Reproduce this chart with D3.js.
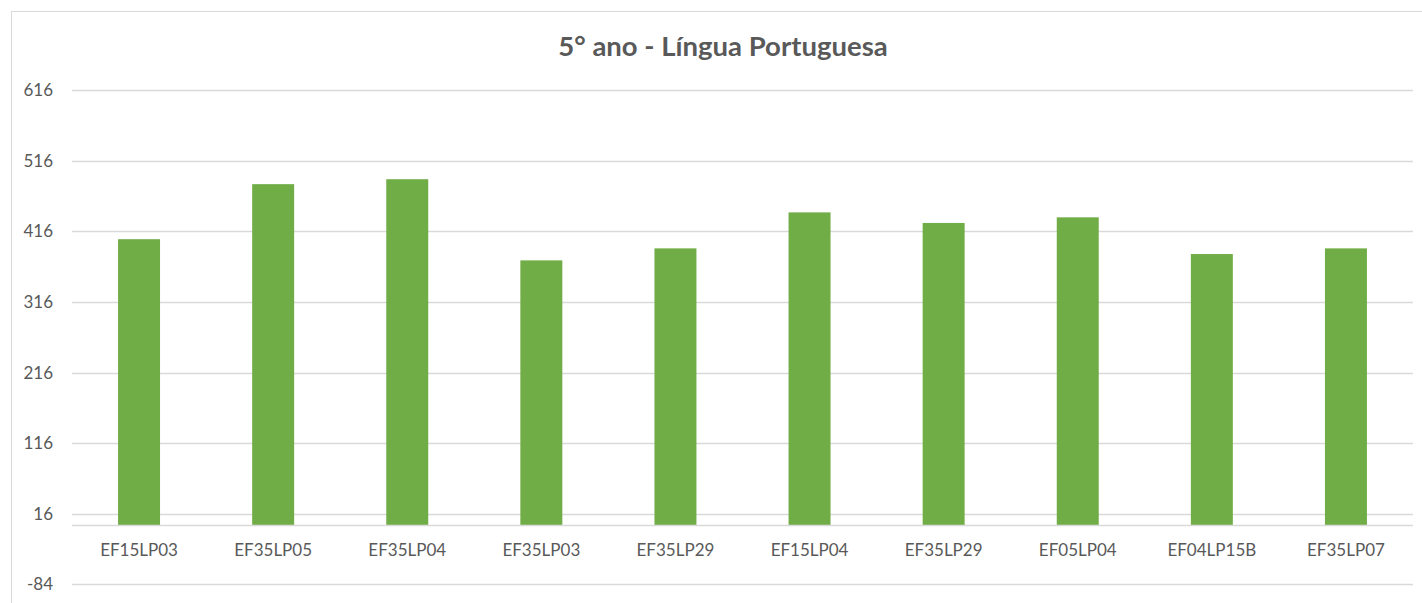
<!DOCTYPE html>
<html><head><meta charset="utf-8">
<script src="https://cdn.jsdelivr.net/npm/d3@7"></script>
<style>html,body{margin:0;padding:0;background:#fff;} svg{display:block;}</style>
</head><body>
<script>
const categories = ["EF15LP03","EF35LP05","EF35LP04","EF35LP03","EF35LP29","EF15LP04","EF35LP29","EF05LP04","EF04LP15B","EF35LP07"];
const values = [405, 483, 490, 375, 392, 443, 428, 436, 384, 392];
const yTicks = [-84, 16, 116, 216, 316, 416, 516, 616];
const title = "5° ano - Língua Portuguesa";

const W = 1422, H = 603;
const svg = d3.select("body").append("svg").attr("width", W).attr("height", H);
svg.append("rect").attr("x", 11.5).attr("y", 11.5).attr("width", W + 10).attr("height", H + 10)
  .attr("fill", "#fff").attr("stroke", "#d9d9d9").attr("stroke-width", 1);

const left = 72, right = 1413;
const x = d3.scaleBand().domain(d3.range(categories.length)).range([left, right]).padding(0);
const y = d3.scaleLinear().domain([-84, 616]).range([584.3, 90.3]);

const font = "Lato, 'Open Sans', sans-serif";

// gridlines
svg.append("g").selectAll("line").data(yTicks).join("line")
  .attr("x1", left).attr("x2", right)
  .attr("y1", d => Math.round(y(d)) + 0.5).attr("y2", d => Math.round(y(d)) + 0.5)
  .attr("stroke", "#d9d9d9").attr("stroke-width", 1.3);

// y labels
const yAxis = d3.axisLeft(y).tickValues(yTicks).tickFormat(d => String(d)).tickSize(0).tickPadding(0);
const gy = svg.append("g").attr("transform", `translate(53,0)`).call(yAxis);
gy.select(".domain").remove();
gy.selectAll("text").attr("fill", "#595959").style("font-family", font).style("font-size", "17px");

// bars
const bw = x.bandwidth() * 0.313;
svg.append("g").selectAll("rect").data(values).join("rect")
  .attr("x", (d, i) => x(i) + x.bandwidth() / 2 - bw / 2)
  .attr("width", bw)
  .attr("y", d => y(d))
  .attr("height", d => y(0) - y(d))
  .attr("fill", "#70ad47");

// x axis line
svg.append("line").attr("x1", left).attr("x2", right)
  .attr("y1", Math.round(y(0)) + 0.5).attr("y2", Math.round(y(0)) + 0.5)
  .attr("stroke", "#d9d9d9").attr("stroke-width", 1.3);

// x labels
const xAxis = d3.axisBottom(x).tickFormat(i => categories[i]).tickSize(0).tickPadding(0);
const gx = svg.append("g").attr("transform", `translate(0,${y(0)})`).call(xAxis);
gx.select(".domain").remove();
gx.selectAll("text").attr("dy", null).attr("y", 31).attr("fill", "#595959")
  .style("font-family", font).style("font-size", "17px");

// title
svg.append("text").attr("x", 723).attr("y", 56).attr("text-anchor", "middle")
  .attr("fill", "#595959").style("font-family", font).style("font-weight", "bold").style("font-size", "27.5px")
  .text(title);
</script>
</body></html>
